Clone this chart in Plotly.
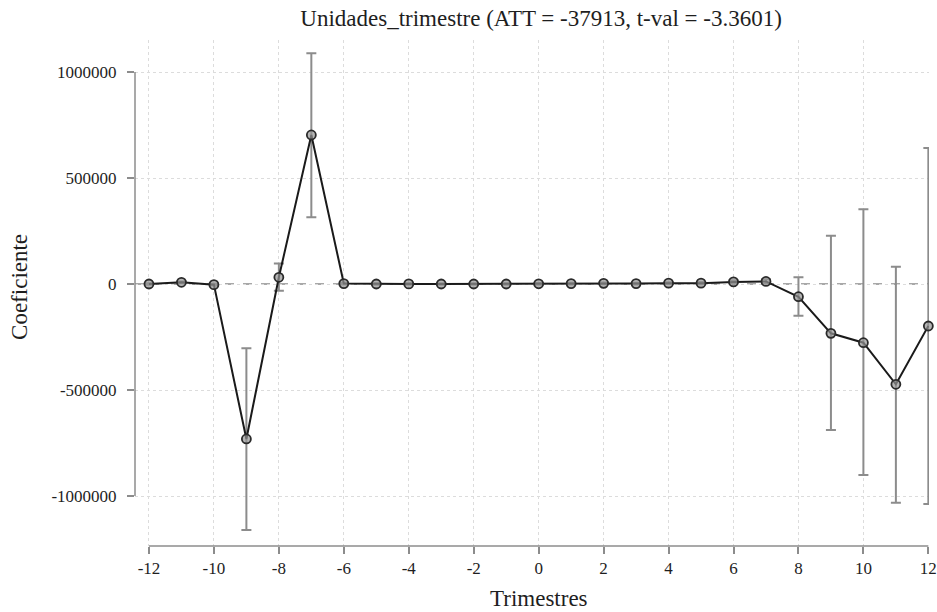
import plotly.graph_objects as go

# Event-study estimates by quarter relative to treatment
periods = list(range(-12, 13))
coef = [0, 8000, -3000, -731000, 31600, 703000, 2000, 0, 500, 0, 0, 0,
        1000, 2000, 3000, 2000, 4000, 4000, 10000, 12000,
        -60000, -232600, -276900, -473100, -198000]
ci_hi = [4000, 12000, 1000, -303000, 97000, 1088000, 6000, 4000, 4500, 4000, 4000, 4000,
         5000, 6000, 7000, 6000, 8000, 9000, 16000, 22000,
         31600, 228000, 352400, 81800, 641500]
ci_lo = [-4000, 4000, -7000, -1160000, -31600, 314600, -2000, -4000, -3500, -4000, -4000, -4000,
         -3000, -2000, -1000, -2000, 0, -1000, 4000, 2000,
         -149500, -688700, -901000, -1031600, -1037700]

x_ticks = list(range(-12, 13, 2))
y_ticks = [-1000000, -500000, 0, 500000, 1000000]
title_text = "Unidades_trimestre (ATT = -37913, t-val = -3.3601)"
x_title = "Trimestres"
y_title = "Coeficiente"

err_plus = [h - c for h, c in zip(ci_hi, coef)]
err_minus = [c - l for c, l in zip(coef, ci_lo)]

FONT = "Liberation Serif, Times New Roman, serif"
TXT = "#1e1e1e"
AXC = "#8c8c8c"

fig = go.Figure()

# confidence intervals
fig.add_trace(go.Scatter(
    x=periods, y=coef, mode="markers",
    marker=dict(size=1, color="rgba(0,0,0,0)"),
    error_y=dict(type="data", symmetric=False, array=err_plus, arrayminus=err_minus,
                 color=AXC, thickness=2, width=5),
    hoverinfo="skip", showlegend=False, cliponaxis=False,
))

# point estimates
fig.add_trace(go.Scatter(
    x=periods, y=coef, mode="lines+markers",
    line=dict(color="#1a1a1a", width=2),
    marker=dict(size=9, color="rgba(150,150,150,0.7)", line=dict(color="#2a2a2a", width=1.8)),
    showlegend=False, cliponaxis=False,
))

# zero reference line
fig.add_hline(y=0, line=dict(color=AXC, width=1.3, dash="dash"), layer="below")

# axis lines spanning the tick range
fig.add_shape(type="line", xref="paper", yref="y", x0=0, x1=0,
              y0=y_ticks[0], y1=y_ticks[-1], line=dict(color=AXC, width=1.5))
fig.add_shape(type="line", xref="x", yref="paper", x0=x_ticks[0], x1=x_ticks[-1],
              y0=0, y1=0, line=dict(color=AXC, width=1.5))

# axis titles
fig.add_annotation(text=x_title, xref="paper", yref="paper", x=0.5085, y=0,
                   yshift=-52, xanchor="center", yanchor="middle", showarrow=False,
                   font=dict(family=FONT, size=23, color=TXT))
fig.add_annotation(text=y_title, xref="paper", yref="paper", x=0, y=0.512,
                   xshift=-115, xanchor="center", yanchor="middle", textangle=-90,
                   showarrow=False, font=dict(family=FONT, size=23, color=TXT))

fig.update_layout(
    width=937, height=612,
    margin=dict(l=135, r=8, t=40, b=66, autoexpand=False),
    paper_bgcolor="white", plot_bgcolor="white",
    font=dict(family=FONT, color=TXT, size=17),
    title=dict(text=title_text, x=0.5775, xanchor="center", y=0.970, yanchor="middle",
               font=dict(family=FONT, size=23, color=TXT)),
    xaxis=dict(
        range=[-12.43, 12.02], tickvals=x_ticks, ticktext=[str(v) for v in x_ticks],
        showgrid=True, gridcolor="#dcdcdc", griddash="dot", gridwidth=1,
        zeroline=False, showline=False, automargin=False,
        ticks="outside", ticklen=7, tickcolor=AXC, tickwidth=1.5,
        tickfont=dict(family=FONT, size=17, color=TXT),
    ),
    yaxis=dict(
        range=[-1235849, 1150943], tickvals=y_ticks, ticktext=[str(v) for v in y_ticks],
        showgrid=True, gridcolor="#dcdcdc", griddash="dot", gridwidth=1,
        zeroline=False, showline=False, automargin=False,
        ticks="outside", ticklen=7, tickcolor=AXC, tickwidth=1.5,
        ticklabelstandoff=7,
        tickfont=dict(family=FONT, size=17, color=TXT),
    ),
)

fig.write_html("out.html")
